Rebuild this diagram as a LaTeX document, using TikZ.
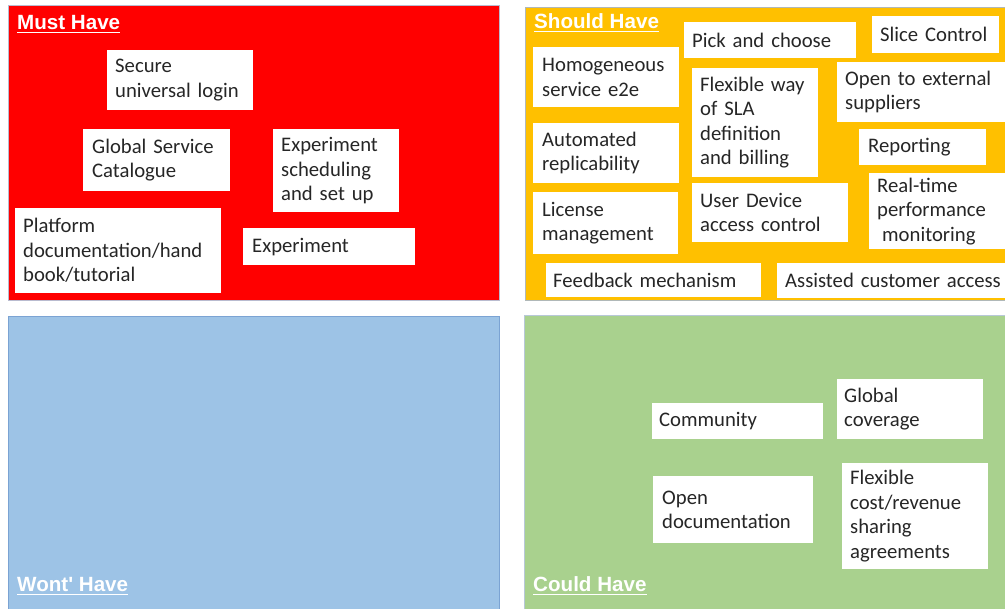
\documentclass[tikz,border=0pt]{standalone}
\usepackage{fontspec}
\newfontfamily\cardfontfam{Carlito}
\newfontfamily\titlefontfam{Liberation Sans}
\definecolor{mred}{HTML}{FF0000}
\definecolor{myellow}{HTML}{FFC000}
\definecolor{mblue}{HTML}{9DC3E6}
\definecolor{mgreen}{HTML}{A9D18E}
\definecolor{mtext}{HTML}{262626}
\definecolor{bred}{HTML}{B9BBCF}
\definecolor{byellow}{HTML}{B0B8B8}
\definecolor{bblue}{HTML}{7BA3D3}
\definecolor{bgreen}{HTML}{B8C8D8}
\begin{document}
\begin{tikzpicture}[x=1pt,y=-1pt,
  quad/.style={line width=0.8pt},
  card/.style={fill=white, anchor=north west, align=left, inner ysep=0pt,
    text=mtext, font=\cardfontfam\fontsize{20.7}{24.5}\selectfont},
  qtitle/.style={anchor=base west, inner sep=0pt, text=white,
    font=\titlefontfam\bfseries\fontsize{20.6}{24}\selectfont},
  uline/.style={draw=white, line width=1.1pt}]
\useasboundingbox (0,0) rectangle (1005,609);
\clip (0,0) rectangle (1005,609);
% quadrants
\path[quad, fill=mred, draw=bred] (8,5) rectangle (499,300);
\path[quad, fill=myellow, draw=byellow] (525,7) rectangle (1012,300);
\path[quad, fill=mblue, draw=bblue] (8,316) rectangle (499,615);
\path[quad, fill=mgreen, draw=bgreen] (524,315) rectangle (1012,615);
% titles
\node[qtitle] (tmust) at (17,30) {Must Have};
\node[qtitle] (tshould) at (534,29) {Should Have};
\node[qtitle] (twont) at (17,592) {Wont' Have};
\node[qtitle] (tcould) at (533,592) {Could Have};
\foreach \t in {tmust,tshould,twont,tcould}
  \draw[uline] ([yshift=-2.8pt]\t.base west) -- ([yshift=-2.8pt]\t.base east);
% Must Have
\node[card, minimum width=146pt, minimum height=60pt, inner xsep=8pt, text width=130pt] (sec) at (107,50) {Secure\\universal login};
\node[card, minimum width=147pt, minimum height=62pt, inner xsep=9pt, text width=129pt] (gsc) at (83,129) {Global Service\\Catalogue};
\node[card, minimum width=126pt, minimum height=83pt, inner xsep=8pt, text width=110pt] (exs) at (273,129) {Experiment\\scheduling\\and set up};
\node[card, minimum width=206pt, minimum height=85pt, inner xsep=8pt, text width=190pt] (plat) at (15,208) {Platform\\documentation/hand\\book/tutorial};
\node[card, minimum width=172pt, minimum height=37pt, inner xsep=9pt, text width=154pt] (exp) at (243,228) {Experiment};
% Should Have
\node[card, minimum width=172pt, minimum height=36pt, inner xsep=8pt, text width=156pt] (pick) at (684,22) {Pick and choose};
\node[card, minimum width=127pt, minimum height=37pt, inner xsep=8pt, text width=111pt] (slice) at (872,16) {Slice Control};
\node[card, minimum width=146pt, minimum height=60pt, inner xsep=9pt, text width=128pt] (homo) at (533,47) {Homogeneous\\service e2e};
\node[card, minimum width=126pt, minimum height=109pt, inner xsep=8pt, text width=110pt] (flex) at (692,68) {Flexible way\\of SLA\\definition\\and billing};
\node[card, minimum width=180pt, minimum height=60pt, inner xsep=8pt, text width=164pt] (open) at (837,62) {Open to external\\suppliers};
\node[card, minimum width=146pt, minimum height=60pt, inner xsep=9pt, text width=128pt] (auto) at (533,123) {Automated\\replicability};
\node[card, minimum width=127pt, minimum height=36pt, inner xsep=9pt, text width=109pt] (rep) at (859,129) {Reporting};
\node[card, minimum width=145pt, minimum height=62pt, inner xsep=9pt, text width=127pt] (lic) at (533,192) {License\\management};
\node[card, minimum width=156pt, minimum height=59pt, inner xsep=8pt, text width=140pt] (ud) at (692,183) {User Device\\access control};
\node[card, minimum width=150pt, minimum height=76pt, inner xsep=8pt, text width=134pt] (rt) at (869,173) {Real-time\\performance\\\hspace*{5pt}monitoring};
\node[card, minimum width=215pt, minimum height=34pt, inner xsep=7pt, text width=201pt] (fb) at (546,263) {Feedback mechanism};
\node[card, minimum width=240pt, minimum height=35pt, inner xsep=8pt, text width=224pt] (ass) at (777,263) {Assisted customer access};
% Could Have
\node[card, minimum width=171pt, minimum height=36pt, inner xsep=7pt, text width=157pt] (comm) at (652,403) {Community};
\node[card, minimum width=146pt, minimum height=60pt, inner xsep=7pt, text width=132pt] (glob) at (837,379) {Global\\coverage};
\node[card, minimum width=160pt, minimum height=67pt, inner xsep=9pt, text width=142pt] (opend) at (653,476) {Open\\documentation};
\node[card, minimum width=146pt, minimum height=106pt, inner xsep=8pt, text width=130pt] (flexc) at (842,463) {Flexible\\cost/revenue\\sharing\\agreements};
\end{tikzpicture}
\end{document}
